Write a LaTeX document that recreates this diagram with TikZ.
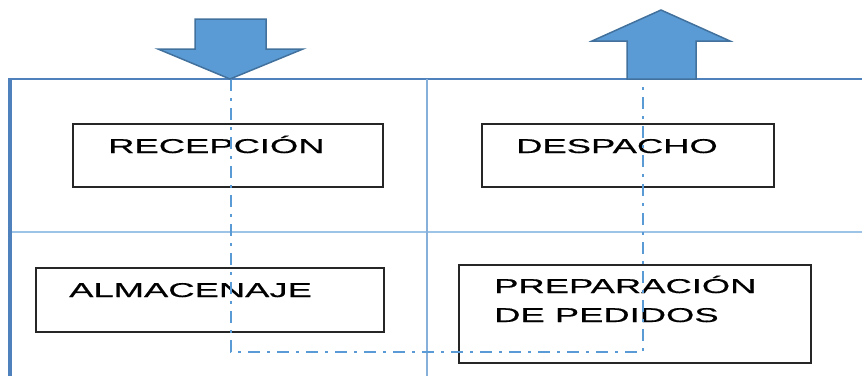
\documentclass[tikz,border=0pt]{standalone}
\usepackage{fontspec}
\newfontfamily\widefont{Liberation Sans}[FakeStretch=1.82,FakeBold=0.6]
\definecolor{arrowfill}{HTML}{5B9BD5}
\definecolor{arrowline}{HTML}{41719C}
\definecolor{framedark}{HTML}{4F81BD}
\definecolor{framelight}{HTML}{9DC3E6}
\definecolor{flowline}{HTML}{5B9BD5}
\begin{document}
\begin{tikzpicture}[x=1pt,y=-1pt,
  areabox/.style={draw=black!85,line width=1.6pt,rectangle,inner sep=0pt},
  lbl/.style={anchor=base west,inner sep=0pt,font=\widefont\fontsize{20}{29}\selectfont,align=left},
  bigarrow/.style={fill=arrowfill,draw=arrowline,line width=1.5pt},
  flow/.style={draw=flowline,line width=2.6pt,dash pattern=on 12pt off 7pt on 3pt off 7pt}]
\useasboundingbox (0,0) rectangle (862,376);
% frame
\draw[framedark,line width=2pt] (10,79) -- (862,79);
\draw[framelight,line width=2pt] (10,232) -- (862,232);
\draw[framelight!70!framedark,line width=2pt] (427,79) -- (427,376);
\draw[framedark,line width=3.5pt] (10,78) -- (10,376);
% boxes
\node[areabox,minimum width=310pt,minimum height=63pt] (rec) at (228,155.5) {};
\node[areabox,minimum width=292pt,minimum height=63pt] (des) at (628,155.5) {};
\node[areabox,minimum width=348pt,minimum height=64pt] (alm) at (210,300) {};
\node[areabox,minimum width=352pt,minimum height=98pt] (pre) at (635,314) {};
\node[lbl] (trec) at (108,153) {RECEPCIÓN};
\node[lbl] (tdes) at (516,153) {DESPACHO};
\node[lbl] (talm) at (69,297) {ALMACENAJE};
\node[lbl] (tpre) at (494,322) {PREPARACIÓN\\DE PEDIDOS};
% flow line
\coordinate (fin) at (231,79);
\coordinate (c1) at (231,352);
\coordinate (c2) at (643,352);
\coordinate (fout) at (643,79);
\draw[flow] (fin) -- (c1) -- (c2) -- (fout);
% arrows
\draw[bigarrow] (195,19) -- (266,19) -- (266,49) -- (303,49) -- (230,79) -- (158,49) -- (195,49) -- cycle;
\draw[bigarrow] (661,10) -- (730,41) -- (696,41) -- (696,79) -- (627,79) -- (627,41) -- (592,41) -- cycle;
\end{tikzpicture}
\end{document}
